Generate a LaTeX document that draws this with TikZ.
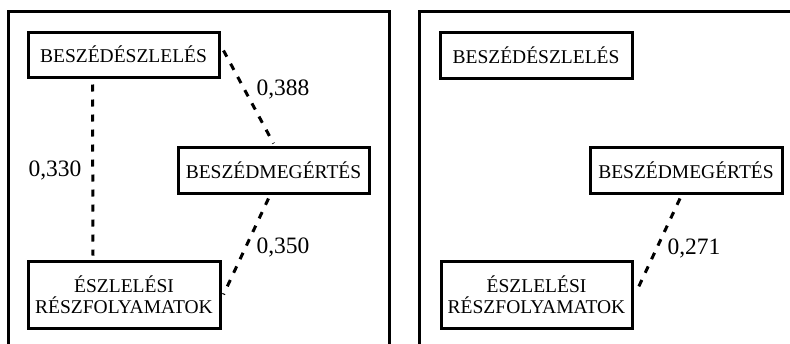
\documentclass[tikz,border=0pt]{standalone}
\usepackage{fontspec}
\setmainfont{Liberation Serif}
\usetikzlibrary{calc}
\begin{document}
\begin{tikzpicture}[x=1pt,y=-1pt,
  frame/.style={line width=3pt},
  conceptbox/.style={draw,line width=3pt,rectangle,inner sep=0pt,
    font=\fontsize{19.5}{20.5}\selectfont,align=center},
  link/.style={line width=3pt,dash pattern=on 7pt off 8pt},
  num/.style={font=\fontsize{23.5}{24}\selectfont,inner sep=0pt}]
\useasboundingbox (0,0) rectangle (790,343);
\clip (0,0) rectangle (790,343);
% frames
\draw[frame] (8,350) -- (8,11) -- (389,11) -- (389,350);
\draw[frame] (419.5,350) -- (419.5,11) -- (800,11);
% left panel
\node[conceptbox,minimum width=191pt,minimum height=45pt] (lp) at (123.5,54.5) {BESZÉDÉSZLELÉS};
\node[conceptbox,minimum width=191pt,minimum height=46pt] (lm) at (273.5,170) {BESZÉDMEGÉRTÉS};
\node[conceptbox,minimum width=192pt,minimum height=67pt] (lr) at (124,294.5) {ÉSZLELÉSI\\RÉSZFOLYAMATOK};
\draw[link] ($(lp.south)+(-31,6)$) -- ($(lr.north)+(-31,-4)$);
\draw[link] ($(lp.east)+(3,-4)$) -- ($(lm.north)+(0,-2)$);
\draw[link] ($(lm.south)+(-5,4)$) -- ($(lr.east)+(2,0)$);
\node[num] (n1) at (55,170) {0,330};
\node[num] (n2) at (283,89) {0,388};
\node[num] (n3) at (283,247) {0,350};
% right panel
\node[conceptbox,minimum width=192pt,minimum height=46pt] (rp) at (536,55) {BESZÉDÉSZLELÉS};
\node[conceptbox,minimum width=192pt,minimum height=46pt] (rm) at (686,170) {BESZÉDMEGÉRTÉS};
\node[conceptbox,minimum width=191pt,minimum height=67pt] (rr) at (536.5,294.5) {ÉSZLELÉSI\\RÉSZFOLYAMATOK};
\draw[link] ($(rm.south)+(-6,4)$) -- ($(rr.east)+(2,-1)$);
\node[num] (n4) at (694,248) {0,271};
\end{tikzpicture}
\end{document}
